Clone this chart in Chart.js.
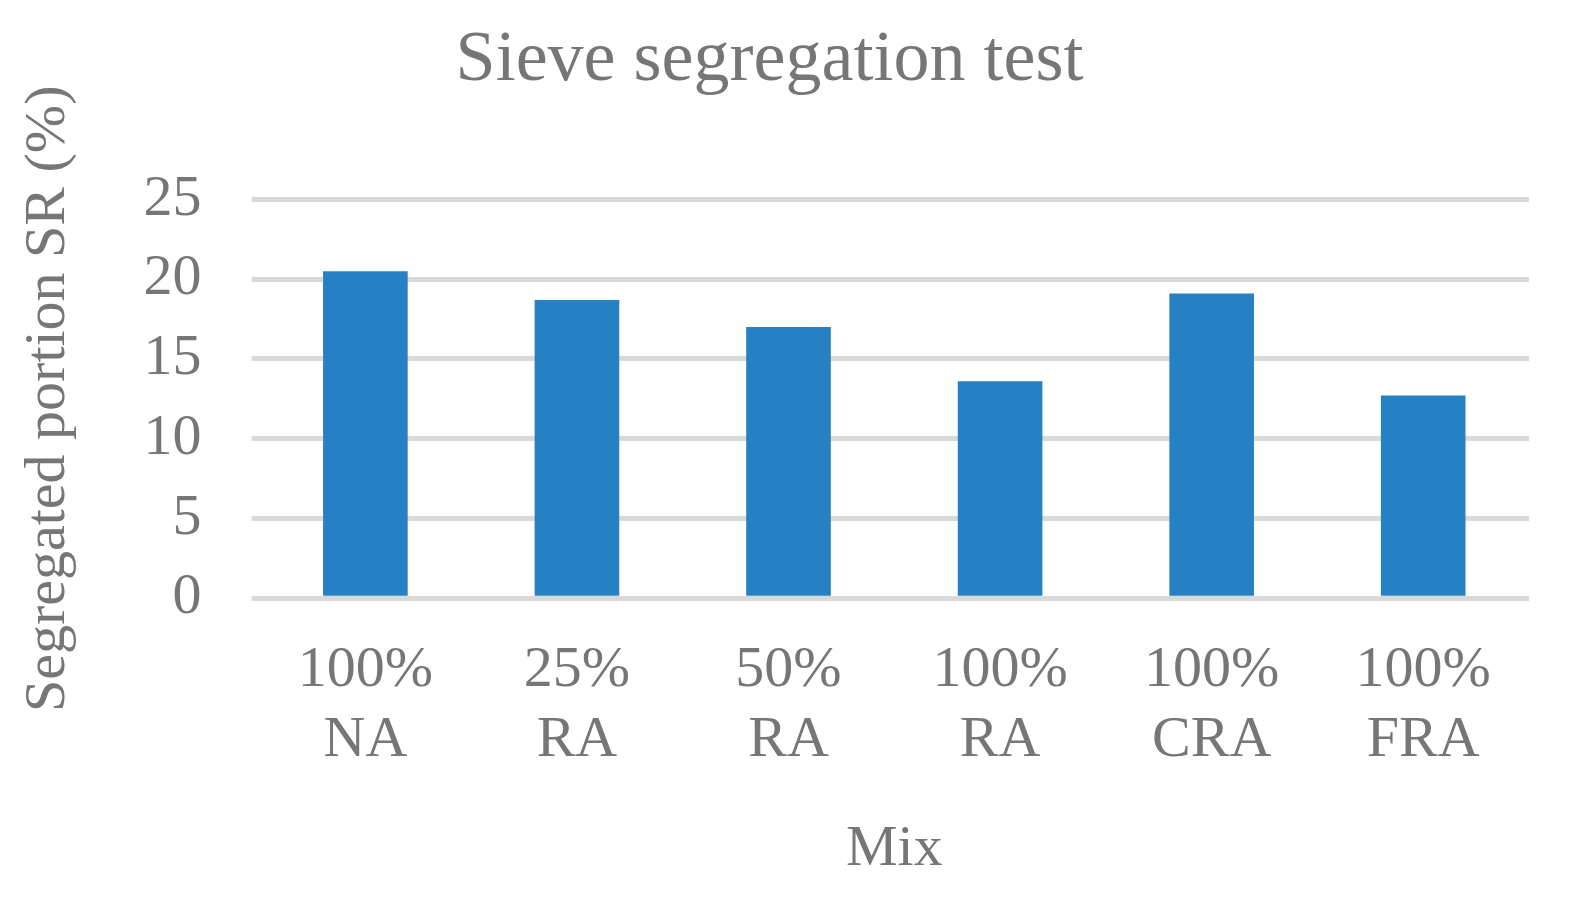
<!DOCTYPE html>
<html><head><meta charset="utf-8">
<script src="https://cdn.jsdelivr.net/npm/chart.js@4"></script>
<style>html,body{margin:0;padding:0;background:#fff}#w{width:1574px;height:899px}</style>
</head><body><div id="w"><canvas id="c"></canvas></div>
<script>
const categories = [["100%","NA"],["25%","RA"],["50%","RA"],["100%","RA"],["100%","CRA"],["100%","FRA"]];
const values = [20.5, 18.7, 17.0, 13.6, 19.1, 12.7];
const yTicks = [0,5,10,15,20,25];
const font = "'Liberation Serif', 'Times New Roman', serif";
const grey = '#767676';
new Chart(document.getElementById('c'), {
  type: 'bar',
  data: { labels: categories, datasets: [{ data: values, backgroundColor: '#2581C3', categoryPercentage: 0.8, barPercentage: 0.5 }] },
  options: {
    responsive: true, maintainAspectRatio: false, animation: false,
    layout: { padding: { left: 10, right: 45, top: 18, bottom: 10 } },
    plugins: {
      legend: { display: false }, tooltip: { enabled: false },
      title: { display: true, text: 'Sieve segregation test', color: grey, font: { family: font, size: 72, weight: 'normal' }, padding: { bottom: 95 } }
    },
    scales: {
      x: {
        grid: { display: false }, border: { display: false },
        ticks: { color: grey, font: { family: font, size: 58, lineHeight: 1.2 }, padding: 30, maxRotation: 0 },
        title: { display: true, text: 'Mix', color: grey, font: { family: font, size: 58 }, padding: { top: 10 } }
      },
      y: {
        min: 0, max: 25, afterBuildTicks: a => { a.ticks = yTicks.map(v => ({ value: v })); },
        grid: { color: '#d9d9d9', lineWidth: 5 }, border: { display: false },
        ticks: { color: grey, font: { family: font, size: 58 }, padding: 50 },
        title: { display: true, text: 'Segregated portion SR (%)', color: grey, font: { family: font, size: 58 }, padding: { bottom: 10 } }
      }
    }
  }
});
</script></body></html>
